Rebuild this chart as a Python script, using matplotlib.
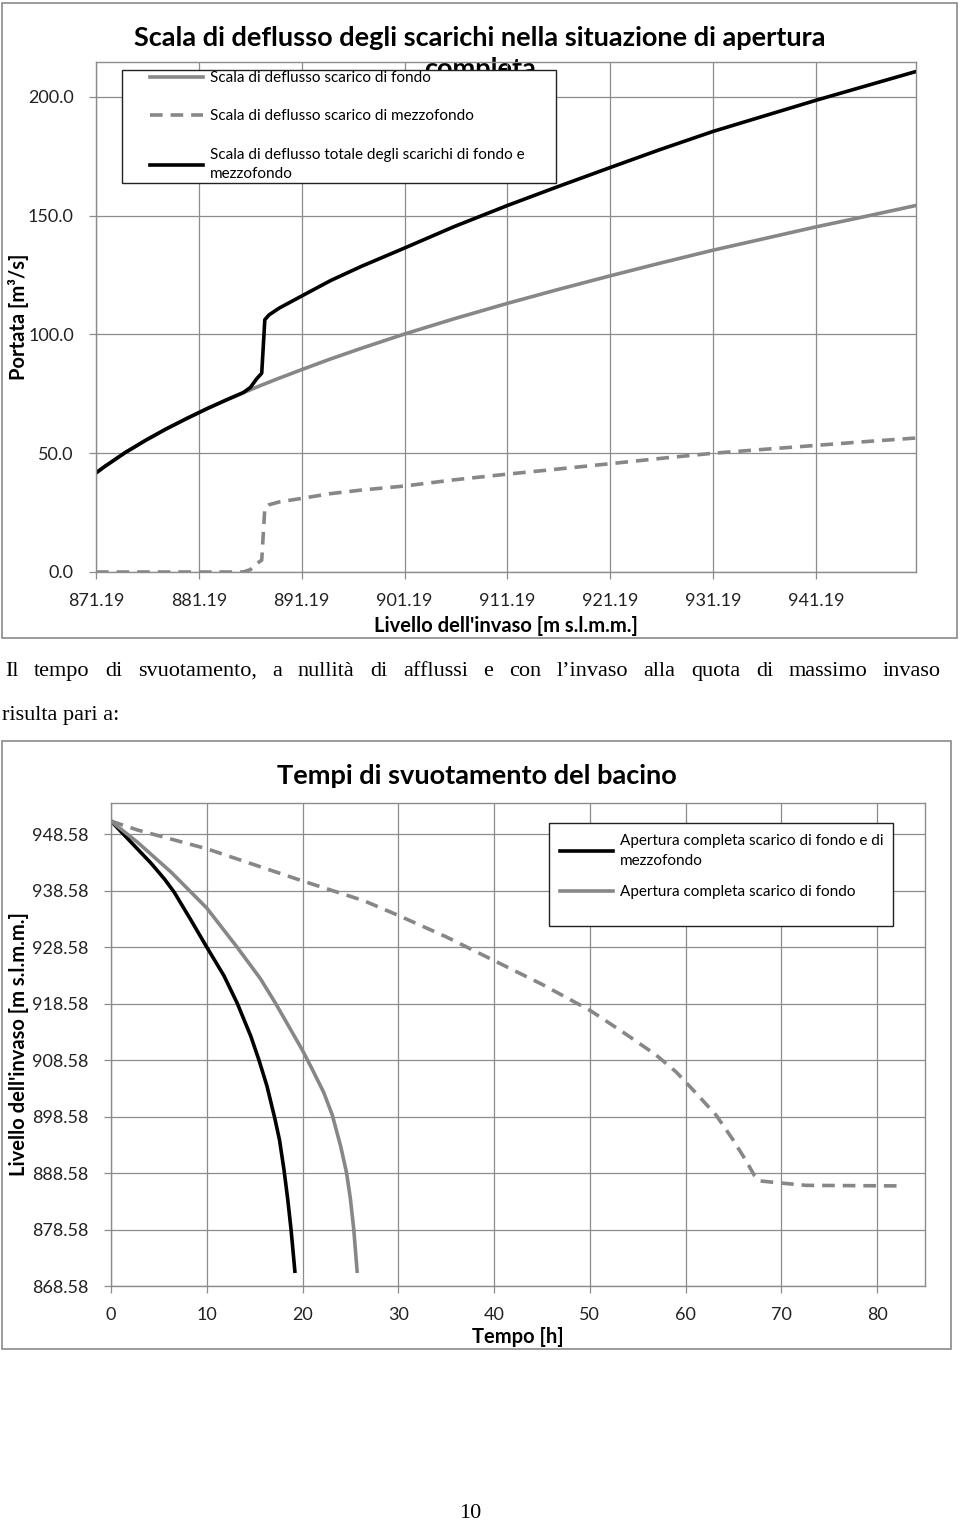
# -*- coding: utf-8 -*-

'''
Scala di deflusso e tempi di svuotamento del bacino
'''

import matplotlib
matplotlib.use('Agg')
import matplotlib.pyplot as plt
from matplotlib.patches import Rectangle
from matplotlib.ticker import FormatStrFormatter, FixedLocator

################################################################################
# dati - scala di deflusso (livello [m s.l.m.m.] -> portata [m3/s])

livelli = [871.19, 872, 874, 876, 878, 880, 882, 884, 885.5, 886.2, 886.8, 887.3,
           887.6, 888, 889, 891.19, 894, 897, 901.19, 906, 911.19, 916, 921.19,
           926, 931.19, 936, 941.19, 946, 950.9]
q_fondo = [41.7, 44.3, 50.2, 55.4, 60.2, 64.6, 68.8, 72.7, 75.5, 76.7, 77.8, 78.7,
           79.2, 79.9, 81.6, 85.2, 89.7, 94.2, 100.2, 106.6, 113.1, 118.8, 124.7,
           130.0, 135.5, 140.2, 145.3, 149.7, 154.3]
q_mezzo = [0, 0, 0, 0, 0, 0, 0, 0, 0, 1.0, 3.5, 5.0,
           27.0, 28.3, 29.5, 31.0, 33.0, 34.5, 36.2, 38.8, 41.2, 43.3, 45.6,
           47.8, 50.0, 51.6, 53.3, 54.9, 56.4]
q_totale = [41.7, 44.3, 50.2, 55.4, 60.2, 64.6, 68.8, 72.7, 75.5, 77.7, 81.3, 83.7,
            106.2, 108.2, 111.1, 116.2, 122.7, 128.7, 136.4, 145.4, 154.3, 162.1, 170.3,
            177.8, 185.5, 191.8, 198.6, 204.6, 210.7]

xticks_top = [871.19, 881.19, 891.19, 901.19, 911.19, 921.19, 931.19, 941.19]
yticks_top = [0, 50, 100, 150, 200]

# dati - tempi di svuotamento (tempo [h] -> livello [m s.l.m.m.])
t_totale = [0, 2.8, 4.2, 5.6, 6.6, 8.3, 10, 11.8, 13.2, 14.6, 15.45, 16.3, 17.1,
            17.6, 18.06, 18.45, 18.8, 19.2]
lv_totale = [950.9, 945.9, 943.4, 940.6, 938.3, 933.5, 928.58, 923.5, 918.58, 912.8,
             908.58, 903.9, 898.3, 894.4, 889.2, 884.0, 878.6, 871.2]

t_fondo = [0, 2.8, 6.25, 10, 13.2, 15.6, 17.2, 18.75, 20, 21.0, 22.2, 23.1, 24.0,
           24.6, 25.0, 25.35, 25.7]
lv_fondo = [950.9, 947.1, 941.9, 935.5, 928.5, 923.0, 918.58, 914.0, 910.3, 907.0,
            902.9, 898.9, 893.2, 888.6, 884.0, 878.6, 871.2]

t_mezzo = [0, 2.8, 10, 20, 26.4, 30, 35, 40, 45, 50, 53.4, 56.9, 59, 61, 63.2, 64.9,
           66.3, 67.2, 67.7, 70, 72.6, 82.5]
lv_mezzo = [950.9, 949.3, 946.0, 940.3, 936.8, 934.2, 930.4, 926.2, 922.0, 917.4,
            913.6, 909.5, 906.5, 902.9, 898.8, 894.6, 890.8, 888.1, 887.2, 886.8,
            886.4, 886.3]

xticks_bot = [0, 10, 20, 30, 40, 50, 60, 70, 80]
yticks_bot = [868.58, 878.58, 888.58, 898.58, 908.58, 918.58, 928.58, 938.58, 948.58]

################################################################################

GREY = '#878787'
GRID = '#8c8c8c'
CHART_FONT = 'Lato'
BODY_FONT = 'Liberation Serif'

W, H = 960, 1522


def px_box(x0, y0, x1, y1):
    # pixel box (top-left origin) -> figure fraction [left, bottom, width, height]
    return [x0 / W, 1 - y1 / H, (x1 - x0) / W, (y1 - y0) / H]


def style_axes(ax):
    ax.set_facecolor('none')
    for s in ax.spines.values():
        s.set_color(GRID)
        s.set_linewidth(1.0)
    ax.grid(True, color=GRID, linewidth=0.9)
    ax.set_axisbelow(True)
    ax.tick_params(direction='out', length=5, width=0.9, color=GRID,
                   labelsize=13, labelcolor='#222222')


def set_tick_font(ax):
    for lab in ax.get_xticklabels() + ax.get_yticklabels():
        lab.set_family(CHART_FONT)


def chart_border(fig, x0, y0, x1, y1):
    l, b, w, h = px_box(x0, y0, x1, y1)
    fig.patches.append(Rectangle((l, b), w, h, transform=fig.transFigure,
                                 fill=False, edgecolor='#8a8a8a', linewidth=1.2))


def legend_box(ax, pos, x0, y0, x1, y1, handle_x, top_y, spacing):
    # white framed box drawn by hand, legend (frameless) on top of it
    l, b, r, t = pos
    to_ax = lambda px, py: ((px - l) / (r - l), (b - py) / (b - t))
    ax0, ay0 = to_ax(x0, y1)
    ax1_, ay1 = to_ax(x1, y0)
    ax.add_patch(Rectangle((ax0, ay0), ax1_ - ax0, ay1 - ay0, transform=ax.transAxes,
                           facecolor='white', edgecolor='#222222', linewidth=1.0,
                           zorder=4, clip_on=False))
    leg = ax.legend(loc='upper left', bbox_to_anchor=to_ax(handle_x, top_y),
                    borderaxespad=0, borderpad=0, frameon=False,
                    prop={'family': CHART_FONT, 'size': 11}, handlelength=3.5,
                    labelspacing=spacing, handletextpad=0.4)
    leg.set_zorder(5)
    for txt in leg.get_texts():
        txt.set_linespacing(1.5)
    return leg


def justified_line(fig, text, x0, x1, y, size):
    words = text.split()
    objs = [fig.text(0, y, w, fontsize=size, family=BODY_FONT, va='baseline')
            for w in words]
    r = fig.canvas.get_renderer()
    widths = [o.get_window_extent(r).width for o in objs]
    gap = ((x1 - x0) - sum(widths)) / (len(words) - 1)
    x = x0
    for o, wd in zip(objs, widths):
        o.set_x(x / W)
        x += wd + gap


fig = plt.figure(figsize=(W / 100, H / 100), dpi=100)

# ---------------------------------------------------------------- grafico 1
chart_border(fig, 2, 3, 957, 638)
pos1 = (96, 62, 916, 572)
ax1 = fig.add_axes(px_box(*pos1))
style_axes(ax1)
ax1.plot(livelli, q_fondo, color=GREY, lw=2.6, label='Scala di deflusso scarico di fondo')
ax1.plot(livelli, q_mezzo, color=GREY, lw=2.6, ls=(0, (3.5, 2.2)),
         label='Scala di deflusso scarico di mezzofondo')
ax1.plot(livelli, q_totale, color='black', lw=2.6,
         label='Scala di deflusso totale degli scarichi di fondo e\nmezzofondo')
ax1.set_xlim(871.19, 950.9)
ax1.set_ylim(0, 214.7)
ax1.xaxis.set_major_locator(FixedLocator(xticks_top))
ax1.yaxis.set_major_locator(FixedLocator(yticks_top))
ax1.xaxis.set_major_formatter(FormatStrFormatter('%.2f'))
ax1.yaxis.set_major_formatter(FormatStrFormatter('%.1f'))
ax1.tick_params(axis='x', pad=10)
ax1.tick_params(axis='y', pad=11)
set_tick_font(ax1)
ax1.set_xlabel("Livello dell'invaso [m s.l.m.m.]", family=CHART_FONT,
               fontweight='bold', fontsize=14.5, labelpad=5)
ax1.set_ylabel('Portata [m³/s]', family=CHART_FONT, fontweight='bold', fontsize=14.5)
ax1.yaxis.set_label_coords((29 - 96) / 820, 0.5)
legend_box(ax1, (96, 572, 916, 62), 122, 70, 556, 183, 150, 71, 1.6)
fig.text(480 / W, 1 - 38 / H, 'Scala di deflusso degli scarichi nella situazione di apertura',
         ha='center', va='center', family=CHART_FONT, fontweight='bold',
         fontsize=19.5, zorder=-1)
fig.text(480 / W, 1 - 69 / H, 'completa', ha='center', va='center', family=CHART_FONT,
         fontweight='bold', fontsize=19.5, zorder=-1)

# ---------------------------------------------------------------- testo
justified_line(fig, 'Il tempo di svuotamento, a nullità di afflussi e con l’invaso '
               'alla quota di massimo invaso', 5, 941, 1 - 676 / H, 16)
fig.text(2 / W, 1 - 720 / H, 'risulta pari a:', fontsize=16, family=BODY_FONT,
         va='baseline')
fig.text(470 / W, 1 - 1518 / H, '10', fontsize=16, family=BODY_FONT,
         ha='center', va='baseline')

# ---------------------------------------------------------------- grafico 2
chart_border(fig, 2, 741, 951, 1349)
ax2 = fig.add_axes(px_box(111, 803, 925, 1286))
style_axes(ax2)
ax2.plot(t_mezzo, lv_mezzo, color=GREY, lw=2.6, ls=(0, (3.5, 2.2)))
ax2.plot(t_totale, lv_totale, color='black', lw=2.6,
         label='Apertura completa scarico di fondo e di\nmezzofondo')
ax2.plot(t_fondo, lv_fondo, color=GREY, lw=2.6, label='Apertura completa scarico di fondo')
ax2.set_xlim(0, 85)
ax2.set_ylim(868.58, 954.1)
ax2.xaxis.set_major_locator(FixedLocator(xticks_bot))
ax2.yaxis.set_major_locator(FixedLocator(yticks_bot))
ax2.yaxis.set_major_formatter(FormatStrFormatter('%.2f'))
ax2.tick_params(axis='x', pad=10)
ax2.tick_params(axis='y', pad=11)
set_tick_font(ax2)
ax2.set_xlabel('Tempo [h]', family=CHART_FONT, fontweight='bold', fontsize=14.5,
               labelpad=3)
ax2.set_ylabel("Livello dell'invaso [m s.l.m.m.]", family=CHART_FONT,
               fontweight='bold', fontsize=14.5)
ax2.yaxis.set_label_coords((29 - 111) / 814, 0.5)
legend_box(ax2, (111, 1286, 925, 803), 549, 823, 893, 926, 560, 834, 1.15)
fig.text(477 / W, 1 - 776 / H, 'Tempi di svuotamento del bacino', ha='center',
         va='center', family=CHART_FONT, fontweight='bold', fontsize=19.5)

fig.savefig('out.png', dpi=100, facecolor='white')
